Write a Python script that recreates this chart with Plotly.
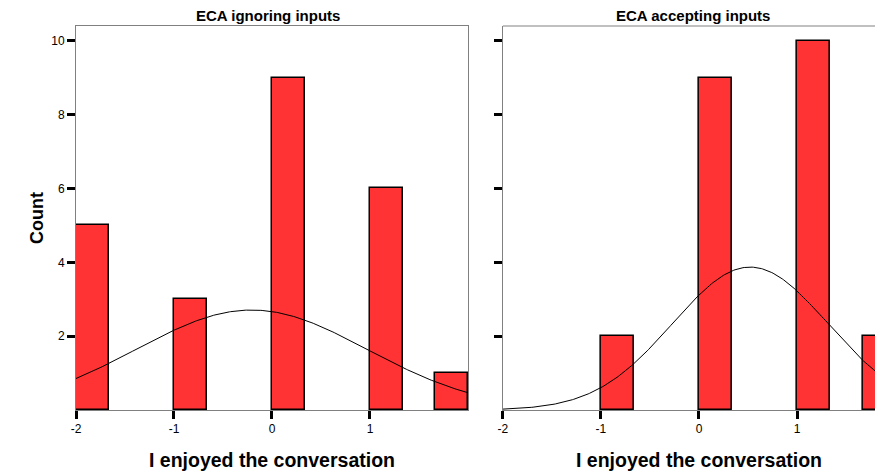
import numpy as np
import plotly.graph_objects as go

# ---- data ----
bin_width = 1 / 3
bin_left_edges_ign = [-2, -1, 0, 1, 1.667]
counts_ign = [5, 3, 9, 6, 1]
bin_left_edges_acc = [-1, 0, 1, 1.667]
counts_acc = [2, 9, 10, 2]
response_ign = [-2, -1, 0, 1, 2]
response_acc = [-1, 0, 1, 2]
x_ticks = [-2, -1, 0, 1]
x_tick_labels = ["-2", "-1", "0", "1"]
y_ticks = [2, 4, 6, 8, 10]
y_tick_labels = ["2", "4", "6", "8", "10"]
titles = ["ECA ignoring inputs", "ECA accepting inputs"]

RED = "#FF3333"


def normal_curve(values, counts, x):
    v = np.repeat(values, counts).astype(float)
    n = len(v)
    m = v.mean()
    s = v.std(ddof=1)
    return n * bin_width / (s * np.sqrt(2 * np.pi)) * np.exp(-((x - m) ** 2) / (2 * s ** 2))


fig = go.Figure()

centers_ign = [e + bin_width / 2 for e in bin_left_edges_ign]
centers_acc = [e + bin_width / 2 for e in bin_left_edges_acc]

fig.add_trace(go.Bar(x=centers_ign, y=counts_ign, width=bin_width,
                     marker=dict(color=RED, line=dict(color="black", width=1.5)),
                     xaxis="x", yaxis="y", showlegend=False))
fig.add_trace(go.Bar(x=centers_acc, y=counts_acc, width=bin_width,
                     marker=dict(color=RED, line=dict(color="black", width=1.5)),
                     xaxis="x2", yaxis="y2", showlegend=False))

xs = np.linspace(-2, 2, 300)
fig.add_trace(go.Scatter(x=xs, y=normal_curve(response_ign, counts_ign, xs), mode="lines",
                         line=dict(color="black", width=1), xaxis="x", yaxis="y",
                         showlegend=False))
fig.add_trace(go.Scatter(x=xs, y=normal_curve(response_acc, counts_acc, xs), mode="lines",
                         line=dict(color="black", width=1), xaxis="x2", yaxis="y2",
                         showlegend=False))

tickfont = dict(family="Liberation Sans, Arial", size=12, color="black")
axis_common = dict(showgrid=False, zeroline=False, showline=True, linecolor="#808080",
                   linewidth=1, ticks="outside", ticklen=8, tickwidth=3, tickcolor="black",
                   tickfont=tickfont)

# the page body has an 8px margin, so the figure is sized to fit the window
fig.update_layout(
    width=875, height=464,
    margin=dict(l=68, r=0, t=18, b=62),
    paper_bgcolor="white", plot_bgcolor="white",
    bargap=0,
    xaxis=dict(domain=[0, 0.4857], range=[-2, 2], tickvals=x_ticks, ticktext=x_tick_labels,
               mirror=True, **axis_common),
    yaxis=dict(domain=[0, 1], range=[0, 10.4], tickvals=y_ticks, ticktext=y_tick_labels,
               mirror=True, **axis_common),
    xaxis2=dict(domain=[0.529, 1], range=[-2, 1.877], tickvals=x_ticks, ticktext=x_tick_labels,
                anchor="y2", **axis_common),
    yaxis2=dict(domain=[0, 1], range=[0, 10.4], tickvals=y_ticks, anchor="x2",
                showticklabels=False, **axis_common),
)

# top border of the right panel (cut off at the right edge)
fig.add_shape(type="line", xref="x2 domain", yref="y2 domain", x0=0, x1=1, y0=1, y1=1,
              line=dict(color="#808080", width=1))

title_font = dict(family="Liberation Sans, Arial", size=15, color="black")
fig.add_annotation(text="<b>" + titles[0] + "</b>", xref="x domain", yref="paper", x=0.49, y=1,
                   yanchor="bottom", yshift=0, showarrow=False, font=title_font)
fig.add_annotation(text="<b>" + titles[1] + "</b>", xref="x2 domain", yref="paper", x=0.5, y=1,
                   yanchor="bottom", yshift=0, showarrow=False, font=title_font)

label_font = dict(family="Liberation Sans, Arial", size=19.5, color="black")
for xr in ["x", "x2"]:
    fig.add_annotation(text="<b>I enjoyed the conversation</b>", xref=xr, yref="paper", x=0, y=0,
                       yanchor="middle", yshift=-50, showarrow=False, font=label_font)
fig.add_annotation(text="<b>Count</b>", xref="paper", yref="paper", x=0, y=0.5, xshift=-51,
                   textangle=-90, showarrow=False,
                   font=dict(family="Liberation Sans, Arial", size=18, color="black"))

fig.write_html("out.html")
